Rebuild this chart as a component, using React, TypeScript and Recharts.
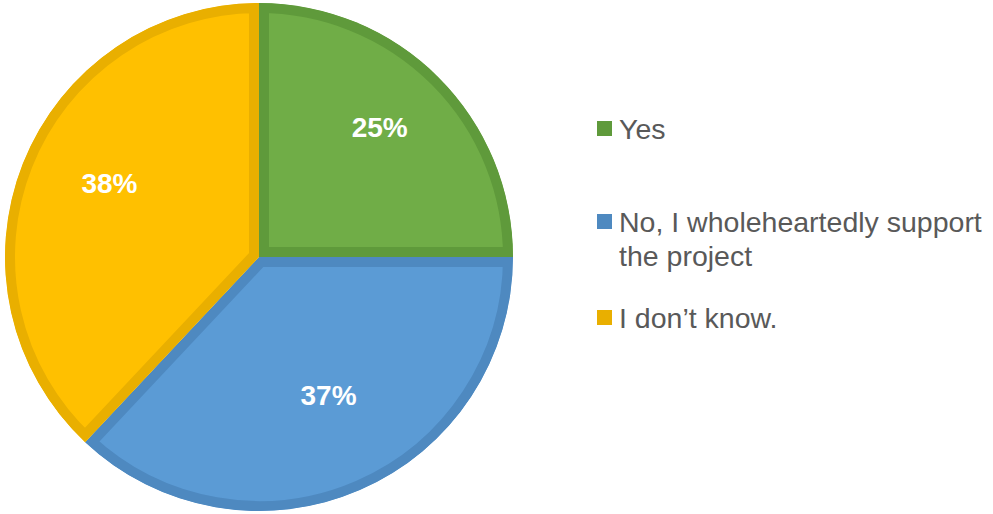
import React from "react";
import { PieChart, Pie, Cell, Legend, Sector } from "recharts";

const answers = ["Yes", "No, I wholeheartedly support the project", "I don\u2019t know."];
const shares = [25, 37, 38];
const fills = ["#70AD47", "#5B9BD5", "#FFC000"];
const borders = ["#5F9A3B", "#4E89C0", "#E9AF00"];

const data = answers.map((name, i) => ({ name, value: shares[i] }));

const RAD = Math.PI / 180;
const FONT = '"Liberation Sans", Arial, sans-serif';

// office-style inner border: stroke twice as wide, clipped to the slice
const SliceShape = (props: any) => {
  const { cx, cy, innerRadius, outerRadius, startAngle, endAngle, fill, stroke } = props;
  const id = `slice-clip-${Math.round(startAngle * 100)}`;
  const geo = { cx, cy, innerRadius, outerRadius, startAngle, endAngle };
  return (
    <g>
      <defs>
        <clipPath id={id}>
          <Sector {...geo} />
        </clipPath>
      </defs>
      <Sector {...geo} fill={fill} stroke={stroke} strokeWidth={20} clipPath={`url(#${id})`} />
    </g>
  );
};

const renderLabel = (props: any) => {
  const { cx, cy, midAngle, outerRadius, percent } = props;
  const r = outerRadius * 0.65;
  const x = cx + r * Math.cos(-midAngle * RAD) + 4;
  const y = cy + r * Math.sin(-midAngle * RAD) - 13;
  return (
    <text x={x} y={y} fill="#ffffff" textAnchor="middle" dominantBaseline="central"
      style={{ fontFamily: FONT, fontSize: 28, fontWeight: 700 }}>
      {`${Math.round(percent * 100)}%`}
    </text>
  );
};

const gaps = [59, 28, 0];

const LegendList = () => (
  <div style={{ fontFamily: FONT, color: "#595959" }}>
    {answers.map((name, i) => (
      <div key={name} style={{ display: "flex", alignItems: "flex-start", marginBottom: gaps[i] }}>
        <div style={{ width: 15, height: 15, background: borders[i], marginTop: 9, marginRight: 7, flexShrink: 0 }} />
        <div style={{ fontSize: 28.5, lineHeight: "34px", width: 374 }}>{name}</div>
      </div>
    ))}
  </div>
);

export default function App() {
  const pieProps: any = { shape: SliceShape, activeShape: SliceShape, inactiveShape: SliceShape };
  return (
    <div style={{ position: "absolute", left: 0, top: 0, width: 993, height: 514, background: "#fff" }}>
      <PieChart width={993} height={514} margin={{ top: 0, right: 0, bottom: 0, left: 0 }}>
        <Pie
          data={data}
          dataKey="value"
          nameKey="name"
          cx={259}
          cy={257}
          outerRadius={254}
          startAngle={90}
          endAngle={-270}
          labelLine={false}
          label={renderLabel}
          {...pieProps}
          isAnimationActive={false}
        >
          {data.map((d, i) => (
            <Cell key={d.name} fill={fills[i]} stroke={borders[i]} />
          ))}
        </Pie>
        <Legend
          content={<LegendList />}
          wrapperStyle={{ position: "absolute", left: 597, top: 112, width: 396 }}
        />
      </PieChart>
    </div>
  );
}
